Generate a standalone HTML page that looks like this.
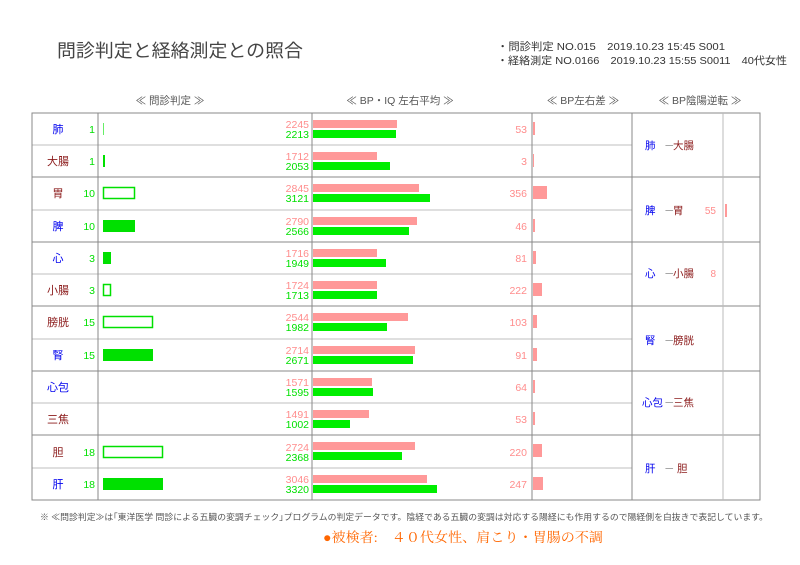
<!DOCTYPE html>
<html><head><meta charset="utf-8"><style>
html,body{margin:0;padding:0;background:#fff;}
svg{display:block;font-family:"Liberation Sans","Noto Sans CJK JP",sans-serif;}
.t{font-size:10.5px;}
.b{fill:#0000ee}.r{fill:#8b1a1a}.g{fill:#00e000}.p{fill:#ff8c8c}
</style></head><body>
<svg width="800" height="565" viewBox="0 0 800 565" xmlns="http://www.w3.org/2000/svg">
<rect width="800" height="565" fill="#fff"/>
<text x="57" y="57" font-size="18" fill="#444" textLength="246" lengthAdjust="spacingAndGlyphs">問診判定と経絡測定との照合</text>
<text x="497" y="50" font-size="10.5" fill="#333" textLength="228" lengthAdjust="spacingAndGlyphs">・問診判定 NO.015　2019.10.23 15:45 S001</text>
<text x="497" y="64" font-size="10.5" fill="#333" textLength="290" lengthAdjust="spacingAndGlyphs">・経絡測定 NO.0166　2019.10.23 15:55 S0011　40代女性</text>
<g font-size="10.5" fill="#555" text-anchor="middle">
<text x="170" y="104">≪ 問診判定 ≫</text>
<text x="400" y="104">≪ BP・IQ 左右平均 ≫</text>
<text x="583" y="104">≪ BP左右差 ≫</text>
<text x="700" y="104">≪ BP陰陽逆転 ≫</text>
</g>
<g stroke="#ccc" stroke-width="1.2">
<line x1="32" y1="145" x2="632" y2="145"/><line x1="32" y1="210" x2="632" y2="210"/>
<line x1="32" y1="274" x2="632" y2="274"/><line x1="32" y1="339" x2="632" y2="339"/>
<line x1="32" y1="403" x2="632" y2="403"/><line x1="32" y1="468" x2="632" y2="468"/>
</g>
<g stroke="#888" stroke-width="1">
<line x1="32" y1="177" x2="760" y2="177"/><line x1="32" y1="242" x2="760" y2="242"/>
<line x1="32" y1="306" x2="760" y2="306"/><line x1="32" y1="371" x2="760" y2="371"/>
<line x1="32" y1="435" x2="760" y2="435"/>
<rect x="32" y="113" width="728" height="387" fill="none"/>
<line x1="98" y1="113" x2="98" y2="500"/><line x1="312" y1="113" x2="312" y2="500"/>
<line x1="532" y1="113" x2="532" y2="500"/><line x1="632" y1="113" x2="632" y2="500"/>
</g>
<line x1="723" y1="113" x2="723" y2="500" stroke="#bbb"/>
<g class="t">
<text x="58" y="133" text-anchor="middle" class="b" font-size="11">肺</text>
<text x="95" y="133" text-anchor="end" class="g">1</text>
<rect x="103" y="123" width="1" height="12" fill="#66ee66"/>
<text x="58" y="165" text-anchor="middle" class="r" font-size="11">大腸</text>
<text x="95" y="165" text-anchor="end" class="g">1</text>
<rect x="103" y="155" width="2" height="12" fill="#00e000"/>
<text x="58" y="197" text-anchor="middle" class="r" font-size="11">胃</text>
<text x="95" y="197" text-anchor="end" class="g">10</text>
<rect x="103.5" y="187.5" width="31" height="11" fill="#fff" stroke="#00e000" stroke-width="1.5"/>
<text x="58" y="230" text-anchor="middle" class="b" font-size="11">脾</text>
<text x="95" y="230" text-anchor="end" class="g">10</text>
<rect x="103" y="220" width="32" height="12" fill="#00e000"/>
<text x="58" y="262" text-anchor="middle" class="b" font-size="11">心</text>
<text x="95" y="262" text-anchor="end" class="g">3</text>
<rect x="103" y="252" width="8" height="12" fill="#00e000"/>
<text x="58" y="294" text-anchor="middle" class="r" font-size="11">小腸</text>
<text x="95" y="294" text-anchor="end" class="g">3</text>
<rect x="103.5" y="284.5" width="7" height="11" fill="#fff" stroke="#00e000" stroke-width="1.5"/>
<text x="58" y="326" text-anchor="middle" class="r" font-size="11">膀胱</text>
<text x="95" y="326" text-anchor="end" class="g">15</text>
<rect x="103.5" y="316.5" width="49" height="11" fill="#fff" stroke="#00e000" stroke-width="1.5"/>
<text x="58" y="359" text-anchor="middle" class="b" font-size="11">腎</text>
<text x="95" y="359" text-anchor="end" class="g">15</text>
<rect x="103" y="349" width="50" height="12" fill="#00e000"/>
<text x="58" y="391" text-anchor="middle" class="b" font-size="11">心包</text>
<text x="58" y="423" text-anchor="middle" class="r" font-size="11">三焦</text>
<text x="58" y="456" text-anchor="middle" class="r" font-size="11">胆</text>
<text x="95" y="456" text-anchor="end" class="g">18</text>
<rect x="103.5" y="446.5" width="59" height="11" fill="#fff" stroke="#00e000" stroke-width="1.5"/>
<text x="58" y="488" text-anchor="middle" class="b" font-size="11">肝</text>
<text x="95" y="488" text-anchor="end" class="g">18</text>
<rect x="103" y="478" width="60" height="12" fill="#00e000"/>
</g>
<g font-size="10.5" text-anchor="end">
<text x="309" y="128" class="p">2245</text><text x="309" y="138" class="g">2213</text>
<text x="309" y="160" class="p">1712</text><text x="309" y="170" class="g">2053</text>
<text x="309" y="192" class="p">2845</text><text x="309" y="202" class="g">3121</text>
<text x="309" y="225" class="p">2790</text><text x="309" y="235" class="g">2566</text>
<text x="309" y="257" class="p">1716</text><text x="309" y="267" class="g">1949</text>
<text x="309" y="289" class="p">1724</text><text x="309" y="299" class="g">1713</text>
<text x="309" y="321" class="p">2544</text><text x="309" y="331" class="g">1982</text>
<text x="309" y="354" class="p">2714</text><text x="309" y="364" class="g">2671</text>
<text x="309" y="386" class="p">1571</text><text x="309" y="396" class="g">1595</text>
<text x="309" y="418" class="p">1491</text><text x="309" y="428" class="g">1002</text>
<text x="309" y="451" class="p">2724</text><text x="309" y="461" class="g">2368</text>
<text x="309" y="483" class="p">3046</text><text x="309" y="493" class="g">3320</text>
</g>
<g>
<rect x="313" y="120" width="84" height="8" fill="#ff9999"/><rect x="313" y="130" width="83" height="8" fill="#00ee00"/>
<rect x="313" y="152" width="64" height="8" fill="#ff9999"/><rect x="313" y="162" width="77" height="8" fill="#00ee00"/>
<rect x="313" y="184" width="106" height="8" fill="#ff9999"/><rect x="313" y="194" width="117" height="8" fill="#00ee00"/>
<rect x="313" y="217" width="104" height="8" fill="#ff9999"/><rect x="313" y="227" width="96" height="8" fill="#00ee00"/>
<rect x="313" y="249" width="64" height="8" fill="#ff9999"/><rect x="313" y="259" width="73" height="8" fill="#00ee00"/>
<rect x="313" y="281" width="64" height="8" fill="#ff9999"/><rect x="313" y="291" width="64" height="8" fill="#00ee00"/>
<rect x="313" y="313" width="95" height="8" fill="#ff9999"/><rect x="313" y="323" width="74" height="8" fill="#00ee00"/>
<rect x="313" y="346" width="102" height="8" fill="#ff9999"/><rect x="313" y="356" width="100" height="8" fill="#00ee00"/>
<rect x="313" y="378" width="59" height="8" fill="#ff9999"/><rect x="313" y="388" width="60" height="8" fill="#00ee00"/>
<rect x="313" y="410" width="56" height="8" fill="#ff9999"/><rect x="313" y="420" width="37" height="8" fill="#00ee00"/>
<rect x="313" y="442" width="102" height="8" fill="#ff9999"/><rect x="313" y="452" width="89" height="8" fill="#00ee00"/>
<rect x="313" y="475" width="114" height="8" fill="#ff9999"/><rect x="313" y="485" width="124" height="8" fill="#00ee00"/>
</g>
<g font-size="10.5" text-anchor="end" class="p">
<text x="527" y="133">53</text><text x="527" y="165">3</text><text x="527" y="197">356</text>
<text x="527" y="230">46</text><text x="527" y="262">81</text><text x="527" y="294">222</text>
<text x="527" y="326">103</text><text x="527" y="359">91</text><text x="527" y="391">64</text>
<text x="527" y="423">53</text><text x="527" y="456">220</text><text x="527" y="488">247</text>
</g>
<g fill="#ff9999">
<rect x="533" y="122" width="2" height="13"/><rect x="533" y="154" width="1" height="13"/>
<rect x="533" y="186" width="14" height="13"/><rect x="533" y="219" width="2" height="13"/>
<rect x="533" y="251" width="3" height="13"/><rect x="533" y="283" width="9" height="13"/>
<rect x="533" y="315" width="4" height="13"/><rect x="533" y="348" width="4" height="13"/>
<rect x="533" y="380" width="2" height="13"/><rect x="533" y="412" width="2" height="13"/>
<rect x="533" y="444" width="9" height="13"/><rect x="533" y="477" width="10" height="13"/>
</g>
<g font-size="10.5">
<text x="645" y="149" class="b">肺</text><text x="664" y="149" fill="#888">－</text><text x="673" y="149" class="r">大腸</text>
<text x="645" y="214" class="b">脾</text><text x="664" y="214" fill="#888">－</text><text x="673" y="214" class="r">胃</text>
<text x="716" y="214" text-anchor="end" class="p" font-size="10">55</text>
<rect x="725" y="204" width="2" height="13" fill="#ff9999"/>
<text x="645" y="277" class="b">心</text><text x="664" y="277" fill="#888">－</text><text x="673" y="277" class="r">小腸</text>
<text x="716" y="277" text-anchor="end" class="p" font-size="10">8</text>
<text x="645" y="344" class="b">腎</text><text x="664" y="344" fill="#888">－</text><text x="673" y="344" class="r">膀胱</text>
<text x="642" y="406" class="b">心包</text><text x="664" y="406" fill="#888">－</text><text x="673" y="406" class="r">三焦</text>
<text x="645" y="472" class="b">肝</text><text x="664" y="472" fill="#888">－</text><text x="677" y="472" class="r">胆</text>
</g>
<text x="40" y="520" font-size="8.5" fill="#555" textLength="728" lengthAdjust="spacingAndGlyphs">※ ≪問診判定≫は｢東洋医学 問診による五臓の変調チェック｣プログラムの判定データです。陰経である五臓の変調は対応する陽経にも作用するので陽経側を白抜きで表記しています。</text>
<text x="323" y="542" font-size="13.5" fill="#ff6600" font-family="'Liberation Serif','Noto Serif CJK SC',serif" textLength="280" lengthAdjust="spacingAndGlyphs">●被検者:　４０代女性、肩こり・胃腸の不調</text>
</svg>
</body></html>
